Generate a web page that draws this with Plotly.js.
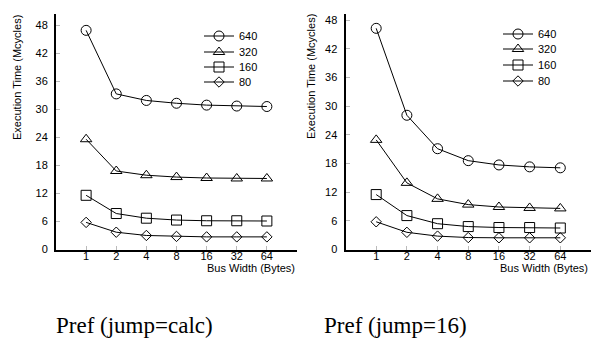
<!DOCTYPE html>
<html>
<head>
<meta charset="utf-8">
<script src="https://cdn.plot.ly/plotly-3.0.1.min.js"></script>
<style>
html,body{margin:0;padding:0;background:#fff;}
#chart{width:591px;height:345px;}
</style>
</head>
<body>
<div id="chart"></div>
<script>
// Data
var busWidths = ['1', '2', '4', '8', '16', '32', '64'];
var seriesNames = ['640', '320', '160', '80'];

// Left: Pref (jump=calc)
var calc640 = [46.9, 33.3, 31.9, 31.3, 30.9, 30.7, 30.6];
var calc320 = [23.6, 16.8, 15.9, 15.5, 15.3, 15.2, 15.2];
var calc160 = [11.6, 7.7, 6.7, 6.3, 6.15, 6.15, 6.1];
var calc80  = [5.8, 3.7, 3.0, 2.8, 2.7, 2.7, 2.7];

// Right: Pref (jump=16)
var j16_640 = [46.3, 28.1, 21.1, 18.6, 17.7, 17.3, 17.1];
var j16_320 = [22.95, 13.95, 10.6, 9.4, 8.9, 8.7, 8.6];
var j16_160 = [11.5, 7.1, 5.4, 4.8, 4.6, 4.6, 4.5];
var j16_80  = [5.8, 3.6, 2.8, 2.5, 2.45, 2.45, 2.45];

var yTicks = [0, 6, 12, 18, 24, 30, 36, 42, 48];
var captions = ['Pref (jump=calc)', 'Pref (jump=16)'];
var xTitle = 'Bus Width (Bytes)';
var yTitle = 'Execution Time (Mcycles)';

var symbols = ['circle-open', 'triangle-up-open', 'square-open', 'diamond-open'];
var sizes = [10, 10, 10, 8];

var W = 591, H = 345;
function px(x){ return x / W; }
function py(y){ return 1 - y / H; }

var leftData = [calc640, calc320, calc160, calc80];
var rightData = [j16_640, j16_320, j16_160, j16_80];

var traces = [];
var layout = {
  width: W, height: H,
  margin: {l: 0, r: 0, t: 0, b: 0},
  showlegend: true,
  paper_bgcolor: '#fff', plot_bgcolor: '#fff',
  font: {family: 'Liberation Sans, Arial, sans-serif', size: 11, color: '#000'},
  annotations: []
};

var leftRows = [36, 52, 67, 82];
var rightRows = [34, 49, 65, 81];

function addSet(data, xa, ya, legStart, rows, legX) {
  for (var i = 0; i < 4; i++) {
    var legName = (legStart + i) === 1 ? 'legend' : 'legend' + (legStart + i);
    traces.push({
      type: 'scatter', mode: 'lines+markers',
      x: busWidths, y: data[i], name: seriesNames[i],
      xaxis: xa, yaxis: ya, legend: legName, showlegend: true,
      line: {color: '#000', width: 1},
      marker: {symbol: symbols[i], size: sizes[i], color: '#000', line: {color: '#000', width: 1}},
      cliponaxis: false
    });
    layout[legName] = {
      x: px(legX), xanchor: 'left',
      y: py(rows[i]), yanchor: 'middle',
      bgcolor: 'rgba(0,0,0,0)', borderwidth: 0,
      font: {size: 11, color: '#000'},
      itemclick: false, itemdoubleclick: false, visible: true
    };
  }
}

addSet(leftData, 'x', 'y', 1, leftRows, 199);
addSet(rightData, 'x2', 'y2', 5, rightRows, 498);

function xaxisDef(domain, anchor) {
  return {
    domain: domain, anchor: anchor, type: 'category',
    categoryorder: 'array', categoryarray: busWidths,
    range: [-1, 7], showline: true, linecolor: '#000', linewidth: 2,
    showgrid: false, zeroline: false,
    ticks: 'inside', ticklen: 4, tickcolor: '#bbb', tickwidth: 1,
    tickfont: {size: 11, color: '#000'}, ticklabelstandoff: -5,
    fixedrange: true
  };
}
function yaxisDef(domain, anchor, top) {
  return {
    domain: domain, anchor: anchor, range: [0, top],
    tickvals: yTicks, ticktext: yTicks.map(String),
    showline: true, linecolor: '#000', linewidth: 2,
    showgrid: false, zeroline: false,
    ticks: 'inside', ticklen: 4, tickcolor: '#bbb', tickwidth: 1,
    tickfont: {size: 11, color: '#000'}, ticklabelstandoff: 4,
    fixedrange: true
  };
}

layout.xaxis = xaxisDef([px(56), px(297)], 'y');
layout.yaxis = yaxisDef([py(249.5), py(14)], 'x', 50.4);
layout.xaxis2 = xaxisDef([px(345.5), 1], 'y2');
layout.yaxis2 = yaxisDef([py(249.5), py(14)], 'x2', 49.3);

// Axis titles
layout.annotations.push(
  {text: yTitle, xref: 'paper', yref: 'paper', x: px(17), y: py(78), textangle: -90,
   showarrow: false, xanchor: 'center', yanchor: 'middle', font: {size: 11}},
  {text: yTitle, xref: 'paper', yref: 'paper', x: px(311), y: py(76), textangle: -90,
   showarrow: false, xanchor: 'center', yanchor: 'middle', font: {size: 11}},
  {text: xTitle, xref: 'paper', yref: 'paper', x: px(297), y: py(268),
   showarrow: false, xanchor: 'right', yanchor: 'middle', font: {size: 11}},
  {text: xTitle, xref: 'paper', yref: 'paper', x: px(590), y: py(268),
   showarrow: false, xanchor: 'right', yanchor: 'middle', font: {size: 11}},
  {text: captions[0], xref: 'paper', yref: 'paper', x: px(134), y: py(325),
   showarrow: false, xanchor: 'center', yanchor: 'middle',
   font: {family: 'Liberation Serif, Times New Roman, serif', size: 23, color: '#000'}},
  {text: captions[1], xref: 'paper', yref: 'paper', x: px(395), y: py(325),
   showarrow: false, xanchor: 'center', yanchor: 'middle',
   font: {family: 'Liberation Serif, Times New Roman, serif', size: 23, color: '#000'}}
);

Plotly.newPlot('chart', traces, layout, {displayModeBar: false, staticPlot: true});
</script>
</body>
</html>
